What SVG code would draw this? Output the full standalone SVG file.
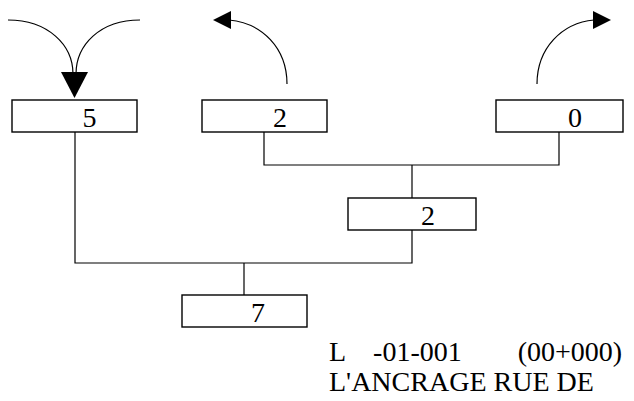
<svg xmlns="http://www.w3.org/2000/svg" width="634" height="401" viewBox="0 0 634 401">
<style>
.box{fill:#fff;stroke:#000;stroke-width:1.4}
.ln{fill:none;stroke:#000;stroke-width:1.2}
.num{font-family:"Liberation Serif","Times New Roman",serif;font-size:28px;fill:#000;text-anchor:middle}
.lbl{font-family:"Liberation Serif","Times New Roman",serif;font-size:28px;fill:#000;white-space:pre}
</style>
<rect width="634" height="401" fill="#fff"/>
<g id="connectors">
<path class="ln" d="M75,132 V263 H412 V230"/>
<path class="ln" d="M244,263 V295"/>
<path class="ln" d="M264,132 V165 H559 V132"/>
<path class="ln" d="M412,165 V198"/>
<path class="ln" d="M8,20 C48,20 73,45 73,74"/>
<path class="ln" d="M140,20 C100,20 76,45 76,74"/>
<path d="M61,72 L88,72 L74.5,98 Z" fill="#000"/>
<path class="ln" d="M287,84 C287,48 262,23 229,20"/>
<path d="M231,11 L231,29 L213,20 Z" fill="#000"/>
<path class="ln" d="M537,84 C537,48 562,23 594,20"/>
<path d="M593,11 L593,29 L611,20 Z" fill="#000"/>
</g>
<g id="n5"><rect class="box" x="12" y="100" width="125" height="32"/><text class="num" x="89.5" y="127">5</text></g>
<g id="n2a"><rect class="box" x="202" y="100" width="125" height="32"/><text class="num" x="280" y="127">2</text></g>
<g id="n0"><rect class="box" x="496" y="100" width="127" height="32"/><text class="num" x="575" y="127">0</text></g>
<g id="n2b"><rect class="box" x="348" y="198" width="128" height="32"/><text class="num" x="428" y="225">2</text></g>
<g id="n7"><rect class="box" x="182" y="295" width="125" height="32"/><text class="num" x="258" y="322">7</text></g>
<g id="caption">
<text class="lbl" x="329" y="361">L    -01-001        (00+000)</text>
<text class="lbl" x="329" y="391">L'ANCRAGE RUE DE</text>
</g>
</svg>
